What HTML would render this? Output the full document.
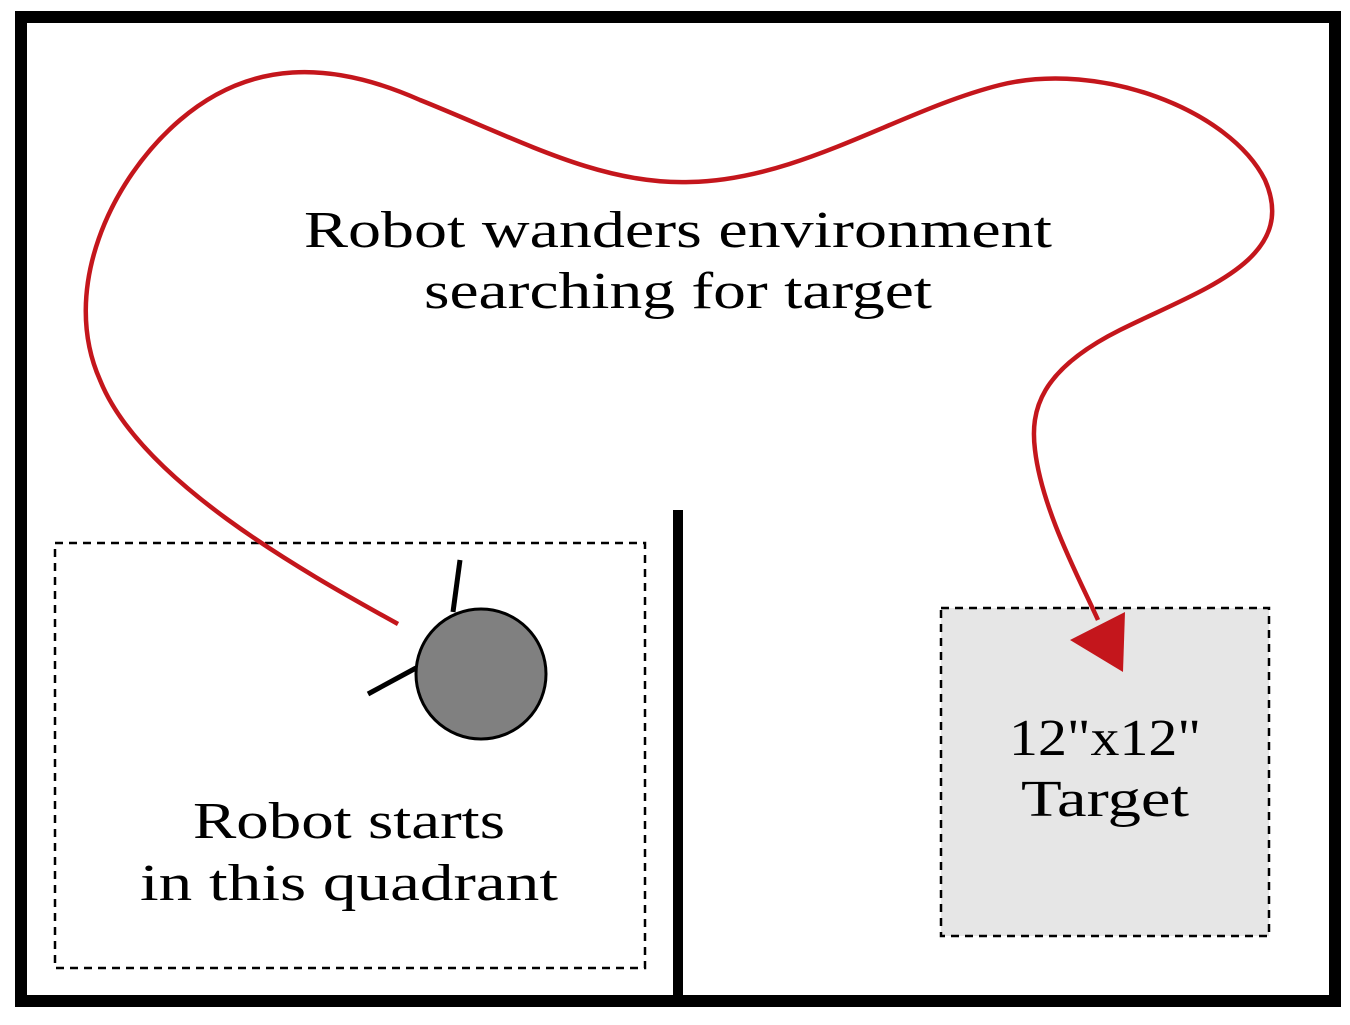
<!DOCTYPE html>
<html><head><style>html,body{margin:0;padding:0;background:#fff}</style></head>
<body>
<svg width="1350" height="1020" viewBox="0 0 1350 1020" xmlns="http://www.w3.org/2000/svg">
<rect x="21" y="17" width="1314" height="984" fill="none" stroke="#000" stroke-width="12"/>
<line x1="678" y1="510" x2="678" y2="1000" stroke="#000" stroke-width="10"/>
<rect x="55" y="543" width="590" height="425" fill="none" stroke="#000" stroke-width="2.5" stroke-dasharray="8,6"/>
<rect x="941" y="608" width="328" height="328" fill="#e6e6e6" stroke="#000" stroke-width="2.5" stroke-dasharray="8,6"/>
<path d="M398,624 C300,570 140,480 100,380 C60,290 110,180 180,120 C250,60 330,60 420,100 C520,140 600,185 690,182 C800,180 900,110 1000,85 C1100,60 1230,110 1265,180 C1300,260 1200,290 1120,330 C1040,370 1030,410 1035,450 C1042,510 1080,580 1098,620" fill="none" stroke="#c4161c" stroke-width="4.5"/>
<polygon points="1070,640 1125,612 1123,672" fill="#c4161c"/>
<line x1="453" y1="612" x2="460" y2="560" stroke="#000" stroke-width="5"/>
<line x1="416" y1="668" x2="368" y2="694" stroke="#000" stroke-width="5"/>
<circle cx="481" cy="674" r="65" fill="#808080" stroke="#000" stroke-width="3"/>
<g font-family="Liberation Serif, serif" font-size="52" fill="#000" text-anchor="middle">
<text x="678" y="247" textLength="748" lengthAdjust="spacingAndGlyphs">Robot wanders environment</text>
<text x="678" y="308" textLength="508" lengthAdjust="spacingAndGlyphs">searching for target</text>
<text x="349" y="838" textLength="312" lengthAdjust="spacingAndGlyphs">Robot starts</text>
<text x="349" y="900" textLength="418" lengthAdjust="spacingAndGlyphs">in this quadrant</text>
<text x="1105" y="755" textLength="192" lengthAdjust="spacingAndGlyphs">12"x12"</text>
<text x="1105" y="816" textLength="168" lengthAdjust="spacingAndGlyphs">Target</text>
</g>
</svg>
</body></html>
